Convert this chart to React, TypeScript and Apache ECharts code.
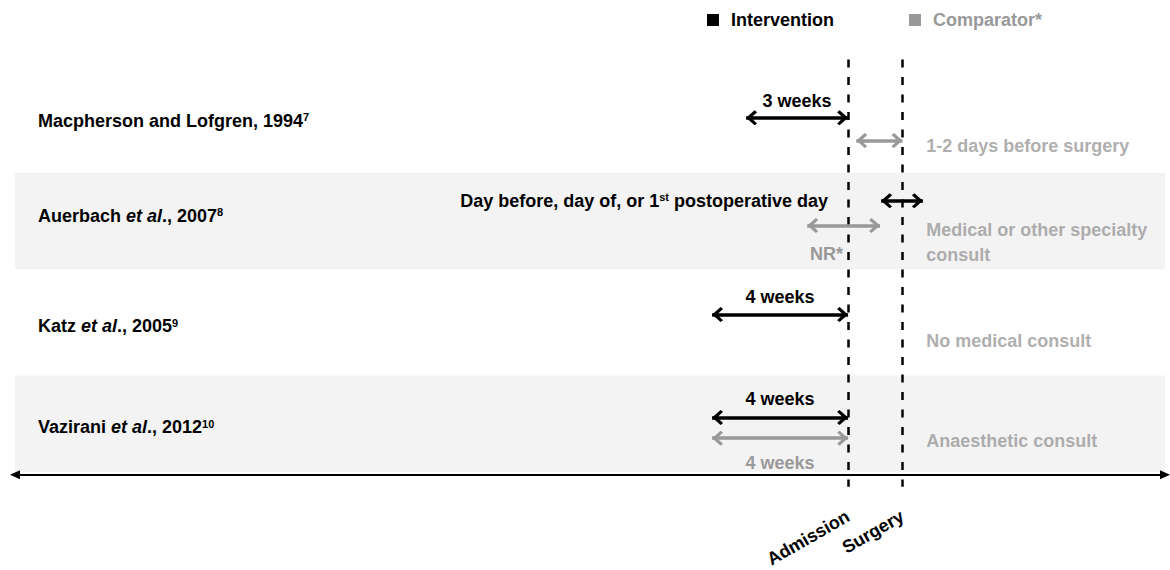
import React, { useEffect, useRef } from "react";
import * as echarts from "echarts";

// ---- data ----
const studyAuthors = ["Macpherson and Lofgren", "Auerbach", "Katz", "Vazirani"];
const studyEtAl = [false, true, true, true];
const studyYears = ["1994", "2007", "2005", "2012"];
const studyRefs = ["7", "8", "9", "10"];
const rows = [1, 2, 3, 4];

const events = ["Admission", "Surgery"];
const eventTimes = [0, 1.6]; // schematic time (weeks) relative to admission

const interventionFrom = [-3, 0.97, -4, -4];
const interventionTo = [0, 2.2, 0, 0];
const interventionLabels = [
  "3 weeks",
  "Day before, day of, or 1{sup|st} postoperative day",
  "4 weeks",
  "4 weeks",
];

const comparatorFrom: (number | null)[] = [0.24, -1.2, null, -4];
const comparatorTo: (number | null)[] = [1.6, 0.94, null, 0];
const comparatorLabels = ["", "NR*", "", "4 weeks"];
const comparatorDescriptions = [
  "1-2 days before surgery",
  "Medical or other specialty\nconsult",
  "No medical consult",
  "Anaesthetic consult",
];

const shadedRows = [2, 4];

// ---- layout / style ----
const FONT = '"Liberation Sans", Arial, Helvetica, sans-serif';
const BLACK = "#000000";
const GREY = "#999999";
const BAND = "#f3f3f3";
const X_MIN = -24.5;
const X_MAX = 9.32;
const Y_MAX = 4.5;
const DESC_X = 2.3;
const interventionDy = [-0.024, -0.204, -0.081, -0.066];
const comparatorDy = [0.2, 0.04, 0, 0.139];
const descriptionDy = [0.259, 0.211, 0.182, 0.168];
const studyLabelDy = [0.005, -0.057, 0.036, 0.03];
const interventionLabelPos: any[] = [
  { position: "middle", distance: 8 },
  { position: "start", distance: [53, 0] },
  { position: "middle", distance: 9 },
  { position: "middle", distance: 9 },
];
const comparatorLabelPos: any[] = [
  { position: "middle", distance: 8 },
  { position: "insideEndBottom", distance: [37, 19] },
  { position: "middle", distance: 8 },
  { position: "insideMiddleBottom", distance: [0, 16] },
];

const CHEVRON =
  "path://M10,-1 L10,-1 M10,10 L20,18.5 L17.5,21 L10,15 L2.5,21 L0,18.5 Z";
const HEAD: number[] = [15, 22];

const textBase = { fontFamily: FONT, fontWeight: "bold", fontSize: 18 };
const rich = {
  it: { ...textBase, fontStyle: "italic" },
  sup: { fontFamily: FONT, fontWeight: "bold", fontSize: 11, verticalAlign: "top" },
};

function studyLabel(i: number) {
  return `${studyAuthors[i]}${studyEtAl[i] ? " {it|et al}." : ""}, ${studyYears[i]}{sup|${studyRefs[i]}}`;
}

export default function App() {
  const ref = useRef<HTMLDivElement>(null);
  useEffect(() => {
    if (!ref.current) return;
    const chart = echarts.init(ref.current, null, { renderer: "svg" });

    const interventionData = rows.map((r, i) => ({
      coords: [
        [interventionFrom[i], r + interventionDy[i]],
        [interventionTo[i], r + interventionDy[i]],
      ],
      label: {
        show: true,
        formatter: interventionLabels[i],
        color: BLACK,
        ...textBase,
        rich,
        ...interventionLabelPos[i],
      },
    }));

    const comparatorData: any[] = [];
    rows.forEach((r, i) => {
      if (comparatorFrom[i] == null || comparatorTo[i] == null) return;
      comparatorData.push({
        coords: [
          [comparatorFrom[i], r + comparatorDy[i]],
          [comparatorTo[i], r + comparatorDy[i]],
        ],
        label: {
          show: comparatorLabels[i] !== "",
          formatter: comparatorLabels[i],
          color: GREY,
          ...textBase,
          ...comparatorLabelPos[i],
        },
      });
    });

    const option: any = {
      animation: false,
      textStyle: { fontFamily: FONT },
      legend: {
        left: 707,
        top: 11,
        padding: 0,
        itemWidth: 12,
        itemHeight: 12,
        itemGap: 75,
        selectedMode: false,
        textStyle: { ...textBase, padding: [0, 0, 0, 7] },
        data: [
          {
            name: "Intervention",
            icon: "rect",
            itemStyle: { color: BLACK, borderWidth: 0 },
            textStyle: { color: BLACK },
          },
          {
            name: "Comparator*",
            icon: "rect",
            itemStyle: { color: GREY, borderWidth: 0 },
            textStyle: { color: GREY },
          },
        ],
      },
      grid: { left: 15, right: 5, top: 19, bottom: 90 },
      xAxis: {
        type: "value",
        min: X_MIN,
        max: X_MAX,
        z: 10,
        axisLine: {
          show: true,
          onZero: false,
          symbol: ["triangle", "triangle"],
          symbolSize: [9, 10],
          lineStyle: { color: BLACK, width: 2 },
        },
        axisTick: { show: false },
        splitLine: { show: false },
        axisLabel: {
          show: true,
          customValues: eventTimes,
          rotate: 30,
          margin: 40,
          color: BLACK,
          ...textBase,
          formatter: (v: number) => {
            const idx = eventTimes.findIndex((t) => Math.abs(t - v) < 1e-6);
            return idx >= 0 ? events[idx] : "";
          },
        },
      },
      yAxis: {
        type: "value",
        inverse: true,
        min: 0,
        max: Y_MAX,
        z: 10,
        axisLine: { show: false, onZero: false },
        axisTick: { show: false },
        splitLine: { show: false },
        axisLabel: {
          show: true,
          inside: true,
          margin: 23,
          customValues: rows.map((r, i) => r + studyLabelDy[i]),
          color: BLACK,
          ...textBase,
          rich,
          formatter: (v: number) => {
            const idx = Math.round(v) - 1;
            return idx >= 0 && idx < rows.length ? studyLabel(idx) : "";
          },
        },
      },
      series: [
        {
          name: "bands",
          type: "line",
          data: [],
          z: -1,
          silent: true,
          markArea: {
            silent: true,
            z: -1,
            itemStyle: { color: BAND },
            data: shadedRows.map((r) => [{ yAxis: r - 0.48 }, { yAxis: r + 0.47 }]),
          },
        },
        {
          name: "events",
          type: "lines",
          coordinateSystem: "cartesian2d",
          z: 2,
          clip: false,
          silent: true,
          symbol: ["none", "none"],
          lineStyle: { color: BLACK, width: 2.5, type: [8, 9.5], opacity: 1 },
          data: eventTimes.map((t) => ({ coords: [[t, 0.4], [t, 4.62]] })),
        },
        {
          name: "Comparator*",
          type: "lines",
          coordinateSystem: "cartesian2d",
          z: 3,
          clip: false,
          silent: true,
          symbol: [CHEVRON, CHEVRON],
          symbolSize: [HEAD, HEAD],
          lineStyle: { color: GREY, width: 3.5, opacity: 1 },
          data: comparatorData,
        },
        {
          name: "Intervention",
          type: "lines",
          coordinateSystem: "cartesian2d",
          z: 4,
          clip: false,
          silent: true,
          symbol: [CHEVRON, CHEVRON],
          symbolSize: [HEAD, HEAD],
          lineStyle: { color: BLACK, width: 3.5, opacity: 1 },
          data: interventionData,
        },
        {
          name: "descriptions",
          type: "scatter",
          z: 3,
          silent: true,
          symbolSize: 0,
          itemStyle: { color: "transparent" },
          data: rows.map((r, i) => [DESC_X, r + descriptionDy[i]]),
          label: {
            show: true,
            position: "right",
            distance: 0,
            color: GREY,
            ...textBase,
            lineHeight: 25,
            formatter: (p: any) => comparatorDescriptions[p.dataIndex],
          },
        },
      ],
    };
    chart.setOption(option);
    return () => chart.dispose();
  }, []);

  return (
    <div
      ref={ref}
      style={{ position: "fixed", left: 0, top: 0, width: 1170, height: 570, background: "#fff" }}
    />
  );
}
